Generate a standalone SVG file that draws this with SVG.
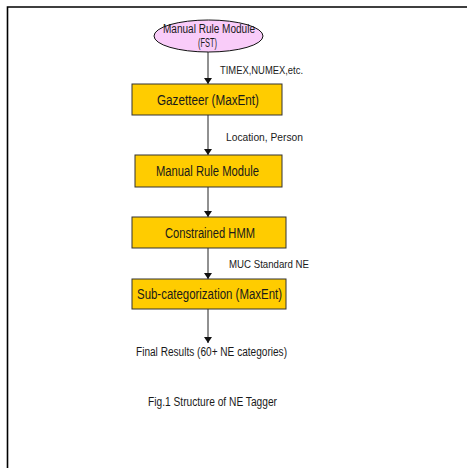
<svg xmlns="http://www.w3.org/2000/svg" width="467" height="468" viewBox="0 0 467 468">
<defs>
<style>
.t{font-family:"Liberation Sans",Arial,sans-serif;fill:#1a1a1a;}
.box{fill:#FFCC00;stroke:#333;stroke-width:1;}
.c{stroke:#222;stroke-width:1;fill:none;}
</style>
<marker id="ah" markerWidth="6" markerHeight="8" refX="6" refY="4" orient="auto" markerUnits="userSpaceOnUse">
<path d="M0,0 L6,4 L0,8 Z" fill="#111"/>
</marker>
</defs>
<rect width="467" height="468" fill="#fff"/>
<path d="M7.5,468 V7 H467" fill="none" stroke="#000" stroke-width="1.6"/>
<g id="connectors">
<line class="c" x1="208" y1="52" x2="208" y2="84" marker-end="url(#ah)"/>
<line class="c" x1="208" y1="115" x2="208" y2="155" marker-end="url(#ah)"/>
<line class="c" x1="208" y1="187" x2="208" y2="217" marker-end="url(#ah)"/>
<line class="c" x1="208" y1="248" x2="208" y2="279" marker-end="url(#ah)"/>
<line class="c" x1="208" y1="309" x2="208" y2="343" marker-end="url(#ah)"/>
<text class="t" x="220" y="74" font-size="11" textLength="83" lengthAdjust="spacingAndGlyphs">TIMEX,NUMEX,etc.</text>
<text class="t" x="226" y="141" font-size="11" textLength="77" lengthAdjust="spacingAndGlyphs">Location, Person</text>
<text class="t" x="229" y="268" font-size="11" textLength="80" lengthAdjust="spacingAndGlyphs">MUC Standard NE</text>
</g>
<g id="n0">
<ellipse cx="208.5" cy="36" rx="54.5" ry="16" fill="#F9CCF9" stroke="#111" stroke-width="1"/>
<text class="t" x="163" y="33" font-size="12" textLength="92" lengthAdjust="spacingAndGlyphs">Manual Rule Module</text>
<text class="t" x="198" y="47" font-size="12" textLength="19" lengthAdjust="spacingAndGlyphs">(FST)</text>
</g>
<g id="n1">
<rect class="box" x="132" y="84" width="150" height="31"/>
<text class="t" x="157" y="105" font-size="14" textLength="102" lengthAdjust="spacingAndGlyphs">Gazetteer (MaxEnt)</text>
</g>
<g id="n2">
<rect class="box" x="135" y="155" width="147" height="32"/>
<text class="t" x="156" y="176" font-size="14" textLength="103" lengthAdjust="spacingAndGlyphs">Manual Rule Module</text>
</g>
<g id="n3">
<rect class="box" x="132" y="217" width="154" height="31"/>
<text class="t" x="165" y="238" font-size="14" textLength="90" lengthAdjust="spacingAndGlyphs">Constrained HMM</text>
</g>
<g id="n4">
<rect class="box" x="132" y="279" width="154" height="30"/>
<text class="t" x="137" y="299" font-size="14" textLength="145" lengthAdjust="spacingAndGlyphs">Sub-categorization (MaxEnt)</text>
</g>
<g id="n5">
<text class="t" x="136" y="356" font-size="12" textLength="151" lengthAdjust="spacingAndGlyphs">Final Results (60+ NE categories)</text>
</g>
<g id="caption">
<text class="t" x="148" y="406" font-size="12" textLength="129" lengthAdjust="spacingAndGlyphs">Fig.1 Structure of NE Tagger</text>
</g>
</svg>
